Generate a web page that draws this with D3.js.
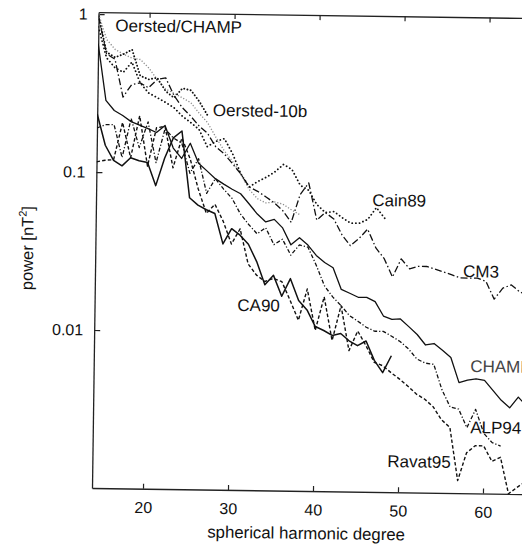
<!DOCTYPE html>
<meta charset="utf-8">
<style>
  body { margin: 0; background: #fff; }
  svg { display: block; font-family: "Liberation Sans", Arial, sans-serif; }
</style>

<svg width="522" height="546"></svg>

<script src="https://d3js.org/d3.v7.min.js"></script>
<script>
// spectra start at degree 14 on this plot, one value per degree
var firstDegree = 14

var degreeTicks = [20, 30, 40, 50, 60]
var powerTicks = [1, 0.1, 0.01]

var models = ["Oersted/CHAMP", "Oersted-10b", "Cain89", "CM3", "CA90", "CHAMP", "ALP94", "Ravat95"]

// power [nT^2]
var oerstedChamp = [1.0, 0.69, 0.60, 0.56, 0.53, 0.52, 0.46, 0.39, 0.34, 0.32, 0.30, 0.28, 0.24, 0.21, 0.17, 0.14, 0.12, 0.10, 0.080, 0.070, 0.066, 0.067, 0.065, 0.060, 0.056]
var oersted10b = [0.97, 0.575, 0.534, 0.56, 0.60, 0.41, 0.39, 0.40, 0.33, 0.30, 0.345, 0.335, 0.285, 0.233]
var cain89 = [0.83, 0.53, 0.46, 0.43, 0.50, 0.37, 0.32, 0.30, 0.28, 0.26, 0.23, 0.21, 0.19, 0.148, 0.16, 0.167, 0.134, 0.10, 0.083, 0.09,
  0.096, 0.104, 0.116, 0.108, 0.086, 0.080, 0.065, 0.058, 0.059, 0.054, 0.050, 0.050, 0.053, 0.063, 0.054]
var cm3 = [0.96, 0.56, 0.52, 0.30, 0.36, 0.37, 0.345, 0.39, 0.40, 0.31, 0.26, 0.23, 0.20, 0.18, 0.148, 0.134, 0.116, 0.10, 0.083, 0.078,
  0.072, 0.066, 0.059, 0.050, 0.075, 0.089, 0.052, 0.058, 0.053, 0.042, 0.036, 0.040, 0.046, 0.035, 0.030, 0.023, 0.030, 0.026,
  0.027, 0.027, 0.026, 0.025, 0.024, 0.023, 0.023, 0.023, 0.022, 0.017, 0.020, 0.021, 0.019, 0.018]
var ca90 = [0.233, 0.148, 0.119, 0.11, 0.124, 0.119, 0.116, 0.083, 0.124, 0.167, 0.185, 0.070, 0.063, 0.059, 0.056, 0.036, 0.045,
  0.041, 0.036, 0.028, 0.020, 0.023, 0.017, 0.022, 0.016, 0.014, 0.011, 0.0104, 0.0097, 0.010, 0.0090, 0.0084, 0.0090, 0.0068,
  0.0057, 0.0073]
var champ = [0.65, 0.285, 0.246, 0.229, 0.21, 0.20, 0.19, 0.18, 0.20, 0.144, 0.124, 0.155, 0.116, 0.104, 0.093, 0.086, 0.080, 0.075,
  0.065, 0.056, 0.050, 0.052, 0.046, 0.036, 0.040, 0.036, 0.031, 0.028, 0.026, 0.019, 0.018, 0.017, 0.017, 0.016, 0.013, 0.0124,
  0.0125, 0.0112, 0.010, 0.0086, 0.0088, 0.0080, 0.0072, 0.0050, 0.0052, 0.0053, 0.0052, 0.0045, 0.0039, 0.0035, 0.0041, 0.0036]
var alp94 = [0.19, 0.20, 0.20, 0.124, 0.22, 0.144, 0.21, 0.116, 0.19, 0.167, 0.155, 0.10, 0.124, 0.075, 0.093, 0.08, 0.070, 0.056,
  0.048, 0.042, 0.046, 0.036, 0.039, 0.031, 0.036, 0.035, 0.027, 0.020, 0.017, 0.015, 0.013, 0.012, 0.011, 0.0104, 0.0104, 0.0097,
  0.009, 0.0081, 0.0070, 0.0066, 0.0065, 0.0045, 0.0035, 0.0034, 0.0026, 0.0034, 0.0024, 0.0021, 0.0020]
var ravat95 = [0.116, 0.119, 0.12, 0.207, 0.124, 0.229, 0.11, 0.193, 0.197, 0.108, 0.167, 0.124, 0.08, 0.056, 0.064, 0.05, 0.036,
  0.045, 0.027, 0.023, 0.021, 0.022, 0.021, 0.016, 0.012, 0.019, 0.0104, 0.017, 0.009, 0.015, 0.0078, 0.0104, 0.0084, 0.0066,
  0.0063, 0.0057, 0.0052, 0.0047, 0.0042, 0.0039, 0.0035, 0.0029, 0.0026, 0.0012, 0.0018, 0.0020, 0.0020, 0.0016, 0.0017, 0.0010,
  0.0011, 0.0012]

var spectra = [oerstedChamp, oersted10b, cain89, cm3, ca90, champ, alp94, ravat95]

// where each model name sits, as [degree, power]
var labelAnchors = [[16.0, 0.78], [27.6, 0.232], [46.5, 0.0645], [57.3, 0.0233], [30.8, 0.0136], [58.3, 0.00585], [58.4, 0.0024], [48.7, 0.00144]]

var lineStyles = {
  "Oersted/CHAMP": { stroke: "#8c8c8c", width: 1.3, dash: "1.2,1.8", cap: "butt" },
  "Oersted-10b":   { stroke: "#111", width: 1.9, dash: "0.1,3.2", cap: "round" },
  "Cain89":        { stroke: "#111", width: 1.8, dash: "0.1,3.6", cap: "round" },
  "CM3":           { stroke: "#111", width: 1.3, dash: "7,2.5,1.5,2.5", cap: "butt" },
  "CA90":          { stroke: "#111", width: 1.5, dash: null, cap: "butt" },
  "CHAMP":         { stroke: "#111", width: 1.3, dash: null, cap: "butt" },
  "ALP94":         { stroke: "#111", width: 1.3, dash: "4,2,1.2,2", cap: "butt" },
  "Ravat95":       { stroke: "#111", width: 1.4, dash: "3.5,2.2", cap: "butt" }
}

var svg = d3.select('svg')

// the scanned figure is tilted a little
var chart = svg.append('g').attr('transform', 'rotate(0.8, 310, 253)')

var x = d3.scaleLinear().domain([14, 65]).range([95.3, 528.8])
var y = d3.scaleLog().domain([0.001, 1.03]).range([491, 15])

// frame + axes
chart.append('g')
  .attr('transform', 'translate(0,' + y(0.001) + ')')
  .call(d3.axisBottom(x).tickValues(degreeTicks).tickSize(-5).tickSizeOuter(0).tickPadding(13))
  .call(styleAxis)

chart.append('g')
  .attr('transform', 'translate(0,' + y(1.03) + ')')
  .call(d3.axisTop(x).tickValues(degreeTicks).tickSize(-5).tickSizeOuter(0).tickFormat(''))
  .call(styleAxis)

chart.append('g')
  .attr('transform', 'translate(' + x(14) + ',0)')
  .call(d3.axisLeft(y).tickValues(powerTicks).tickSize(-6).tickSizeOuter(0).tickPadding(11).tickFormat(d3.format('~g')))
  .call(styleAxis)

function styleAxis(g) {
  g.select('.domain').attr('stroke', '#222').attr('stroke-width', 1.3)
  g.selectAll('.tick line').attr('stroke', '#222').attr('stroke-width', 1.2)
  g.selectAll('.tick text').attr('font-size', 16).attr('fill', '#111')
    .attr('font-family', '"Liberation Sans", Arial, sans-serif')
}

// axis titles
chart.append('text')
  .attr('x', (x(14) + x(65)) / 2 - 2)
  .attr('y', 539)
  .attr('text-anchor', 'middle')
  .attr('font-size', 16.8)
  .attr('fill', '#111')
  .text('spherical harmonic degree')

var yTitle = chart.append('text')
  .attr('transform', 'translate(33,252) rotate(-90)')
  .attr('text-anchor', 'middle')
  .attr('font-size', 16.5)
  .attr('fill', '#111')
yTitle.append('tspan').text('power [nT')
yTitle.append('tspan').attr('font-size', 11).attr('dy', -7).text('2')
yTitle.append('tspan').attr('dy', 7).text(']')

// curves
chart.append('clipPath').attr('id', 'plot-clip')
  .append('rect')
  .attr('x', x(14)).attr('y', y(1.03) - 1)
  .attr('width', x(65) - x(14)).attr('height', y(0.001) - y(1.03) + 2)

var line = d3.line()
  .x(function (d) { return x(d.degree) })
  .y(function (d) { return y(d.power) })

var series = models.map(function (name, i) {
  return {
    name: name,
    points: spectra[i].map(function (p, k) { return { degree: firstDegree + k, power: p } })
  }
})

chart.append('g')
  .attr('clip-path', 'url(#plot-clip)')
  .selectAll('path')
  .data(series)
  .enter().append('path')
  .attr('d', function (s) { return line(s.points) })
  .attr('fill', 'none')
  .attr('stroke', function (s) { return lineStyles[s.name].stroke })
  .attr('stroke-width', function (s) { return lineStyles[s.name].width })
  .attr('stroke-dasharray', function (s) { return lineStyles[s.name].dash })
  .attr('stroke-linecap', function (s) { return lineStyles[s.name].cap })
  .attr('stroke-linejoin', 'round')

// model names
chart.append('g')
  .selectAll('text')
  .data(models)
  .enter().append('text')
  .attr('x', function (d, i) { return x(labelAnchors[i][0]) })
  .attr('y', function (d, i) { return y(labelAnchors[i][1]) })
  .attr('font-size', 17)
  .attr('fill', function (d) { return d === 'CHAMP' ? '#444' : '#111' })
  .text(function (d) { return d })
</script>
